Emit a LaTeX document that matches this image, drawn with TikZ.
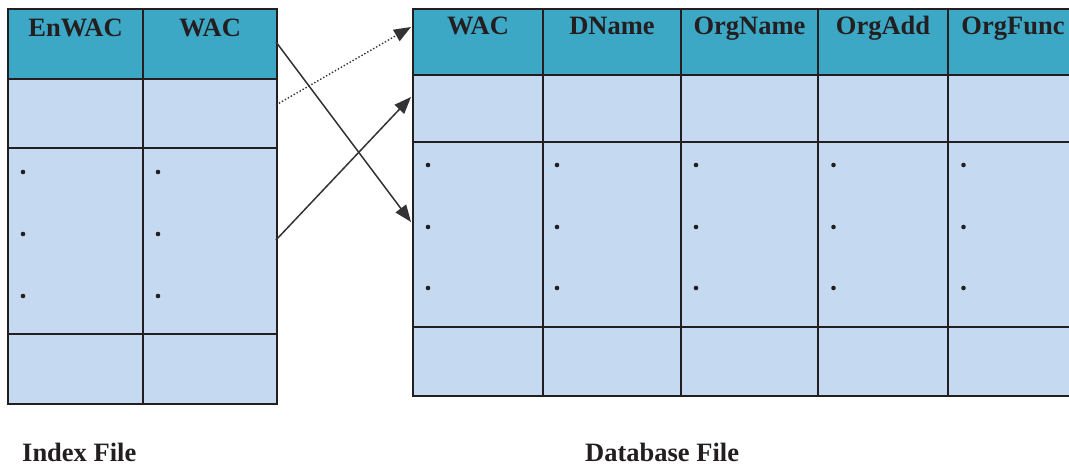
\documentclass[tikz,border=0pt]{standalone}
\usepackage{fontspec}
\setmainfont{Liberation Serif}
\usetikzlibrary{arrows.meta}
\definecolor{headfill}{HTML}{3DA8C5}
\definecolor{bodyfill}{HTML}{C5D9F0}
\definecolor{ink}{HTML}{231F20}
\definecolor{arrowink}{HTML}{333333}
\begin{document}
\begin{tikzpicture}[x=1pt,y=-1pt,
  grid/.style={draw=ink,line width=2pt},
  headtext/.style={anchor=base,inner sep=0pt,text=ink,
    font=\bfseries\fontsize{26.5}{30}\selectfont},
  caption/.style={anchor=base west,inner sep=0pt,text=ink,
    font=\bfseries\fontsize{26.5}{30}\selectfont},
  link/.style={draw=arrowink,line width=1.5pt,
    -{Triangle[length=17pt,width=13pt]}},
  dotlink/.style={draw=arrowink,line width=1.4pt,dotted,
    -{Triangle[length=17pt,width=13pt]}}]
\useasboundingbox (0,0) rectangle (1069,465);

% ---- index file ----
\fill[headfill] (8,9) rectangle (277,79);
\fill[bodyfill] (8,79) rectangle (277,404);
\draw[grid] (8,9) rectangle (277,404);
\foreach \y in {79,148,334} \draw[grid] (8,\y) -- (277,\y);
\draw[grid] (143,9) -- (143,404);
\node[headtext] (iEnWAC) at (75.5,37) {EnWAC};
\node[headtext] (iWAC) at (210,37) {WAC};
\foreach \y in {172,234,296} {
  \fill[ink] (23,\y) circle (2.3);
  \fill[ink] (158,\y) circle (2.3);
}

% ---- database file ----
\begin{scope}
\clip (0,0) rectangle (1069,465);
\fill[headfill] (413,9) rectangle (1080,75);
\fill[bodyfill] (413,75) rectangle (1080,396);
\draw[grid] (413,9) rectangle (1080,396);
\foreach \y in {75,142,327} \draw[grid] (413,\y) -- (1080,\y);
\foreach \x in {543,681,818,948} \draw[grid] (\x,9) -- (\x,396);
\end{scope}
\node[headtext] (dWAC) at (478,35) {WAC};
\node[headtext] (dDName) at (612,35) {DName};
\node[headtext] (dOrgName) at (749.5,35) {OrgName};
\node[headtext] (dOrgAdd) at (883,35) {OrgAdd};
\node[headtext] (dOrgFunc) at (1013,35) {OrgFunc};
\foreach \x in {428,557,696,833.5,963.5} {
  \foreach \y in {165,227,288} \fill[ink] (\x,\y) circle (2.3);
}

% ---- links between the files ----
\coordinate (fromHead) at (276,42);
\coordinate (fromFirst) at (276,105);
\coordinate (fromMid) at (276,240);
\coordinate (toHead) at (411,27);
\coordinate (toFirst) at (411,97);
\coordinate (toMid) at (411,222);
\draw[link] (fromHead) -- (toMid);
\draw[link] (fromMid) -- (toFirst);
\draw[dotlink] (fromFirst) -- (toHead);

% ---- captions ----
\node[caption] (idxLabel) at (22,461) {Index File};
\node[caption] (dbLabel) at (585,461) {Database File};
\end{tikzpicture}
\end{document}
